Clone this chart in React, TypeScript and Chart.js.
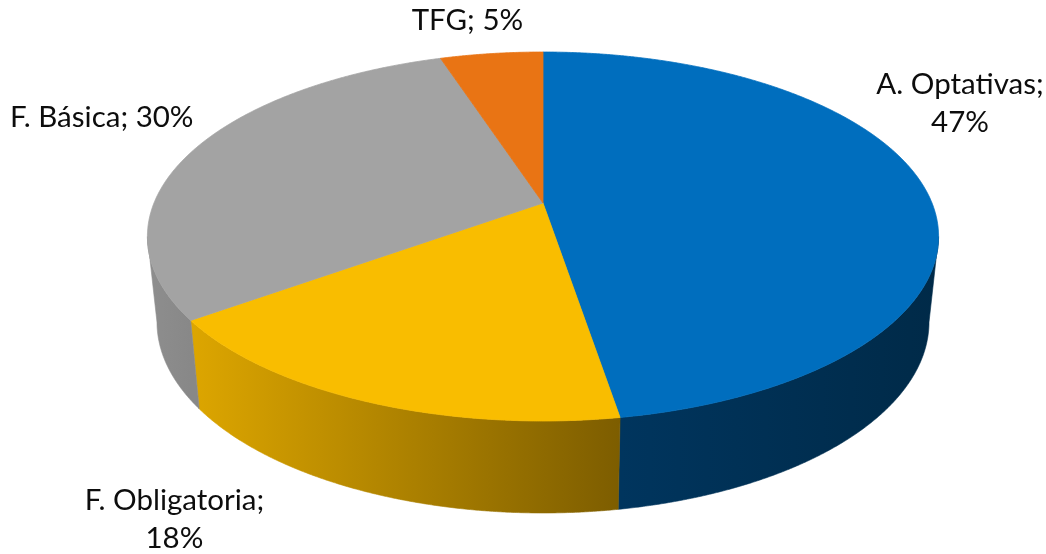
import React, { useEffect, useRef } from 'react';
import { Chart, registerables } from 'chart.js';

Chart.register(...registerables);

const categories = ['A. Optativas', 'F. Obligatoria', 'F. Básica', 'TFG'];
const shares = [47.4, 17.6, 30, 5];

// ---- styles ----
const topColors = ['#006EBE', '#F9BD00', '#A3A3A3', '#E97414'];
const wallColors = [
  ['#00355E', '#002A48'],
  ['#DDA600', '#7D5D00'],
  ['#8E8E8E', '#888888'],
  ['#B05510', '#A04C0C'],
];
const labelWrap = [true, true, false, false];
const labelNudge = [
  [35, -85],
  [-191, 118],
  [-91, -33],
  [-24, -33],
];

// perspective projection parameters (relative to outer radius)
const K = 0.1816;
const TOP_RX = 1.945;
const TOP_RY = 0.892;
const BOT_RX = 1.898;
const BOT_RY = 0.9235;
const BOT_DY = 0.4215;

const pie3d = {
  id: 'pie3d',
  beforeDatasetsDraw(chart: any) {
    const ctx: CanvasRenderingContext2D = chart.ctx;
    const meta = chart.getDatasetMeta(0);
    const arcs = meta.data as any[];
    if (!arcs.length) return false;
    const cx = arcs[0].x;
    const cy = arcs[0].y;
    const R = arcs[0].outerRadius;
    const top = (a: number) => {
      const u = Math.cos(a), v = Math.sin(a);
      const d = 1 - K * v;
      return [cx + (TOP_RX * R * u) / d, cy + (TOP_RY * R * v) / d];
    };
    const bot = (a: number) => {
      const u = Math.cos(a), v = Math.sin(a);
      const d = 1 - K * v;
      return [cx + (BOT_RX * R * u) / d, cy + BOT_DY * R + (BOT_RY * R * v) / d];
    };
    const step = Math.PI / 720;
    const alpha = Math.asin(K);
    const frontA = alpha;
    const frontB = Math.PI - alpha;

    ctx.save();
    // side walls (front-facing part only)
    arcs.forEach((arc, i) => {
      const s = arc.startAngle;
      const e = arc.endAngle;
      const a0 = Math.max(s, frontA);
      const a1 = Math.min(e, frontB);
      if (a1 <= a0) return;
      ctx.beginPath();
      let first = true;
      for (let a = a0; a < a1; a += step) {
        const p = top(a);
        if (first) { ctx.moveTo(p[0], p[1]); first = false; } else ctx.lineTo(p[0], p[1]);
      }
      let p = top(a1);
      ctx.lineTo(p[0], p[1]);
      for (let a = a1; a > a0; a -= step) {
        const q = bot(a);
        ctx.lineTo(q[0], q[1]);
      }
      p = bot(a0);
      ctx.lineTo(p[0], p[1]);
      ctx.closePath();
      const xl = top(a1)[0];
      const xr = top(a0)[0];
      const g = ctx.createLinearGradient(xl, 0, xr, 0);
      g.addColorStop(0, wallColors[i][0]);
      g.addColorStop(1, wallColors[i][1]);
      ctx.fillStyle = g;
      ctx.fill();
      ctx.strokeStyle = g;
      ctx.lineWidth = 0.6;
      ctx.stroke();
    });
    // top faces
    arcs.forEach((arc) => {
      const s = arc.startAngle;
      const e = arc.endAngle;
      ctx.beginPath();
      ctx.moveTo(cx, cy);
      for (let a = s; a < e; a += step) {
        const p = top(a);
        ctx.lineTo(p[0], p[1]);
      }
      const p = top(e);
      ctx.lineTo(p[0], p[1]);
      ctx.closePath();
      ctx.fillStyle = arc.options.backgroundColor;
      ctx.fill();
      ctx.strokeStyle = arc.options.backgroundColor;
      ctx.lineWidth = 0.8;
      ctx.stroke();
    });
    // data labels
    ctx.fillStyle = '#0D0D0D';
    ctx.font = '29.5px Lato, Carlito, "Open Sans", sans-serif';
    ctx.textAlign = 'center';
    ctx.textBaseline = 'middle';
    const lineH = 38;
    arcs.forEach((arc, i) => {
      const mid = (arc.startAngle + arc.endAngle) / 2;
      const p = top(mid);
      const x = p[0] + labelNudge[i][0];
      const y = p[1] + labelNudge[i][1];
      const label = chart.data.labels[i];
      const val = Math.round(chart.data.datasets[0].data[i]);
      const lines = labelWrap[i] ? [label + ';', val + '%'] : [label + '; ' + val + '%'];
      const y0 = y - ((lines.length - 1) * lineH) / 2;
      lines.forEach((t, j) => ctx.fillText(t, x, y0 + j * lineH));
    });
    ctx.restore();
    return false;
  },
};

export default function App() {
  const ref = useRef<HTMLCanvasElement>(null);
  useEffect(() => {
    const chart = new Chart(ref.current as HTMLCanvasElement, {
      type: 'pie',
      data: {
        labels: categories,
        datasets: [{ data: shares, backgroundColor: topColors, borderWidth: 0 }],
      },
      options: {
        responsive: false,
        animation: false,
        events: [],
        layout: { padding: { left: 40, right: 0, top: 3, bottom: 151 } },
        plugins: { legend: { display: false }, tooltip: { enabled: false } },
      },
      plugins: [pie3d as any],
    });
    return () => chart.destroy();
  }, []);
  return (
    <div style={{ position: 'absolute', left: 0, top: 0, width: 1046, height: 554, background: '#ffffff' }}>
      <canvas ref={ref} width={1046} height={554} style={{ display: 'block' }} />
    </div>
  );
}
